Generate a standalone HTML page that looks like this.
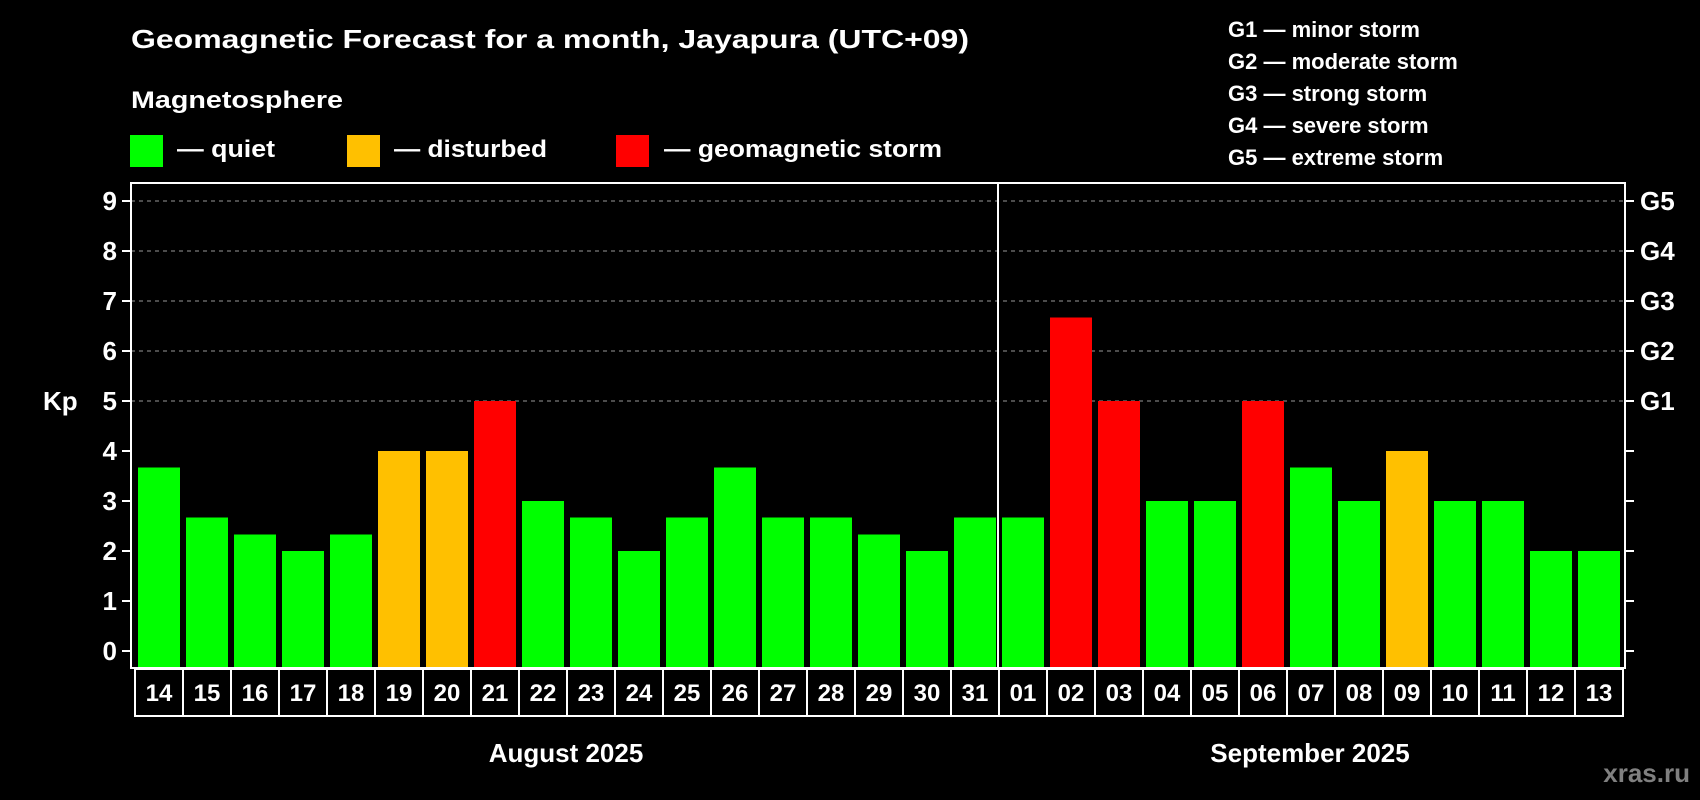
<!DOCTYPE html>
<html><head><meta charset="utf-8"><style>
html,body{margin:0;padding:0;background:#000;width:1700px;height:800px;overflow:hidden}
svg{display:block;font-family:"Liberation Sans",Arial,sans-serif;font-weight:bold}
</style></head><body>
<svg id="chart" width="1700" height="800" viewBox="0 0 1700 800" xmlns="http://www.w3.org/2000/svg">
<rect width="1700" height="800" fill="#000"/>
<text x="131" y="48" fill="#fff" font-size="26" textLength="838" lengthAdjust="spacingAndGlyphs">Geomagnetic Forecast for a month, Jayapura (UTC+09)</text>
<text x="131" y="108" fill="#fff" font-size="24" textLength="212" lengthAdjust="spacingAndGlyphs">Magnetosphere</text>
<g>
<rect x="130" y="135" width="33" height="32" fill="#00ff00"/>
<text x="177" y="157" fill="#fff" font-size="24" textLength="98" lengthAdjust="spacingAndGlyphs">— quiet</text></g>
<g>
<rect x="347" y="135" width="33" height="32" fill="#ffc000"/>
<text x="394" y="157" fill="#fff" font-size="24" textLength="153" lengthAdjust="spacingAndGlyphs">— disturbed</text></g>
<g>
<rect x="616" y="135" width="33" height="32" fill="#ff0000"/>
<text x="664" y="157" fill="#fff" font-size="24" textLength="278" lengthAdjust="spacingAndGlyphs">— geomagnetic storm</text></g>
<g fill="#fff" font-size="22">
<text x="1228" y="37">G1 — minor storm</text>
<text x="1228" y="69">G2 — moderate storm</text>
<text x="1228" y="101">G3 — strong storm</text>
<text x="1228" y="133">G4 — severe storm</text>
<text x="1228" y="165">G5 — extreme storm</text>
</g>
<text x="43" y="410" fill="#fff" font-size="26">Kp</text>
<g id="grid"></g><g id="bars"></g><g id="axes"></g>
<text x="566" y="762" fill="#fff" font-size="26" text-anchor="middle">August 2025</text>
<text x="1310" y="762" fill="#fff" font-size="26" text-anchor="middle">September 2025</text>
<text x="1690" y="782" fill="#808080" font-size="26" text-anchor="end">xras.ru</text>
</svg>
<script>
const days = ["14","15","16","17","18","19","20","21","22","23","24","25","26","27","28","29","30","31","01","02","03","04","05","06","07","08","09","10","11","12","13"];
const kp = [3.67,2.67,2.33,2,2.33,4,4,5,3,2.67,2,2.67,3.67,2.67,2.67,2.33,2,2.67,2.67,6.67,5,3,3,5,3.67,3,4,3,3,2,2];
const yTicks = [0,1,2,3,4,5,6,7,8,9];
const gLabels = ["G1","G2","G3","G4","G5"];
const gLevels = [5,6,7,8,9];
const NS="http://www.w3.org/2000/svg";
const L=131,R=1625,T=183,B=668,Y0=651,U=50,STEP=48;
const y=v=>Y0-v*U;
const x=i=>135+i*STEP;
function mk(t,a,p){const e=document.createElementNS(NS,t);for(const k in a)e.setAttribute(k,a[k]);p.appendChild(e);return e;}
const grid=document.getElementById('grid'),bars=document.getElementById('bars'),axes=document.getElementById('axes');
gLevels.forEach(v=>{
 const l=mk('line',{x1:L,x2:R,y1:y(v),y2:y(v),stroke:'#999','stroke-dasharray':'4,4','stroke-width':1},grid);
 
 
});
kp.forEach((v,i)=>{
 const c=v>=5?'#ff0000':(v>=4?'#ffc000':'#00ff00');
 const r=mk('rect',{x:x(i)+3,y:y(v),width:42,height:B-y(v),fill:c},bars);
 
 
});
const box=mk('rect',{x:L,y:T,width:R-L,height:B-T,fill:'none',stroke:'#fff','stroke-width':2},axes);


const sep=days.indexOf("01");
const d=mk('line',{x1:x(sep)-1,x2:x(sep)-1,y1:T,y2:B,stroke:'#fff','stroke-width':2},axes);


yTicks.forEach(v=>{
 mk('line',{x1:L-9,x2:L,y1:y(v),y2:y(v),stroke:'#fff','stroke-width':2},axes);
 mk('line',{x1:R,x2:R+9,y1:y(v),y2:y(v),stroke:'#fff','stroke-width':2},axes);
 const t=mk('text',{x:L-14,y:y(v)+9,fill:'#fff','font-size':26,'text-anchor':'end'},axes);
 t.textContent=v;
 
 
});
gLevels.forEach((v,i)=>{
 const t=mk('text',{x:R+15,y:y(v)+9,fill:'#fff','font-size':26},axes);
 t.textContent=gLabels[i];
 
 
});
days.forEach((dd,i)=>{
 const c=mk('rect',{x:x(i),y:669,width:STEP,height:47,fill:'none',stroke:'#fff','stroke-width':2},axes);
 
 
 const t=mk('text',{x:x(i)+24,y:701,fill:'#fff','font-size':24,'text-anchor':'middle'},axes);
 t.textContent=dd;
 
 
});
</script>
</body></html>
